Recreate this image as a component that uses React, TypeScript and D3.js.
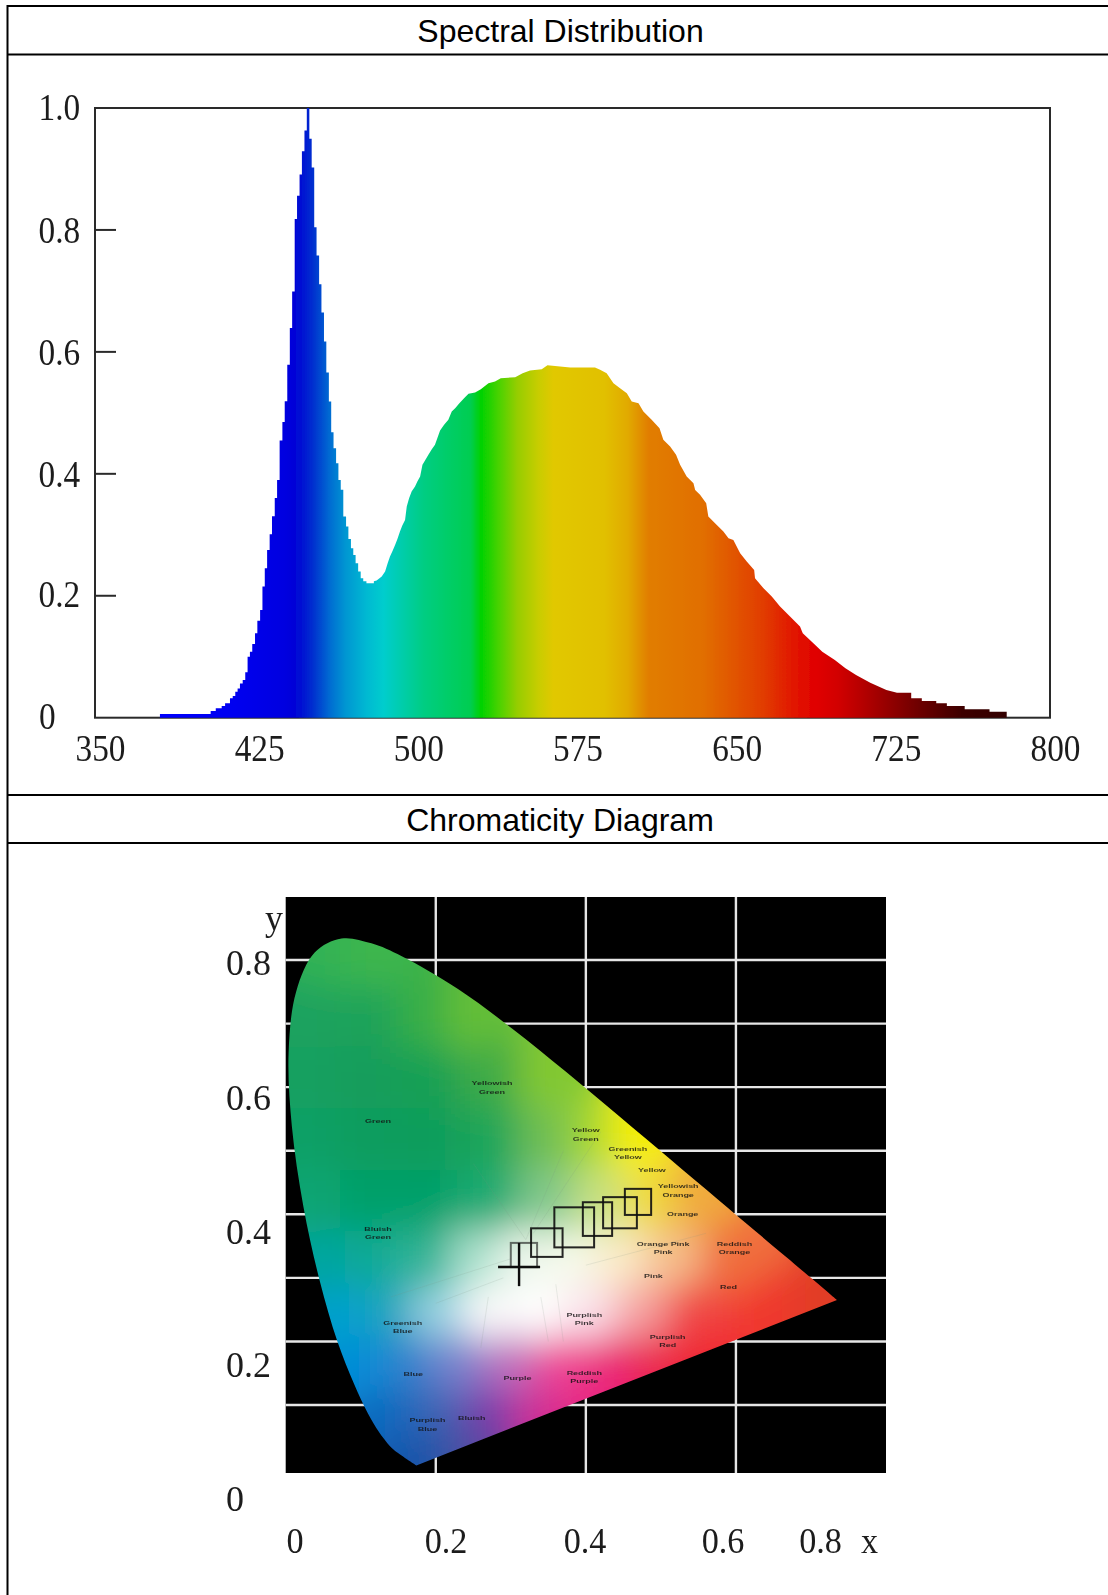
import React, { useMemo } from "react";
import * as d3 from "d3";

// ---------- Spectral distribution data ----------
const wavelengths = [
  380.6, 404.5, 406.9, 409.7, 411.3, 413.6, 414.9, 416.1, 417.2, 418.3, 419.6, 420.8, 421.9, 423, 424.1, 425.4, 426.5, 427.8, 428.9, 430,
  431.1, 432.3, 433.4, 434.7, 435.8, 437, 438.3, 439.4, 440.6, 441.8, 442.9, 444.1, 445.2, 446.4, 447.5, 448.7, 449.8, 451, 452.1, 453.3,
  454.4, 455.6, 456.7, 457.9, 459, 460.2, 461.3, 462.4, 463.6, 464.7, 465.8, 467, 468.3, 469.4, 470.6, 471.7, 472.8, 474, 475.2, 476.4,
  477.9, 481.4, 482.7, 485.1, 486.7, 487.9, 489, 490.3, 491.4, 492.5, 493.7, 494.8, 496.1, 496.9, 498, 499.2, 500.8, 501.9, 503.2, 504.3,
  505.5, 507.1, 508.7, 510.2, 511.3, 512.6, 514.5, 516.5, 518.1, 519.7, 521.7, 523.9, 526, 529.1, 531.8, 535.4, 538.5, 541.2, 548, 551.5,
  555, 560.5, 563.2, 573.9, 585.6, 588, 591.1, 594.3, 597.4, 600.6, 602.9, 606.1, 608.4, 612.3, 616, 617.8, 621, 623.8, 625.7, 628.8,
  632, 632.8, 635.1, 638, 639, 643, 646.1, 648.5, 650.8, 654, 657.1, 660.6, 661, 665, 668.9, 672.8, 677.5, 682.2, 683.5, 688.5,
  692.7, 698.6, 703.6, 708.6, 715.3, 722.9, 727.9, 734.6, 739.6, 746.4, 751.4, 759.8, 771.5, 779.6,
];
const intensities = [
  0.006, 0.011, 0.0154, 0.019, 0.0236, 0.032, 0.0356, 0.0427, 0.048, 0.056, 0.062, 0.0745, 0.1, 0.108, 0.121, 0.1385, 0.159, 0.1767, 0.215, 0.245,
  0.275, 0.301, 0.3305, 0.3605, 0.39, 0.4545, 0.485, 0.519, 0.579, 0.639, 0.699, 0.818, 0.856, 0.891, 0.929, 0.963, 1.0, 0.9497, 0.9026, 0.8046,
  0.7581, 0.7111, 0.6646, 0.617, 0.5661, 0.5185, 0.468, 0.442, 0.4175, 0.39, 0.3737, 0.33, 0.3135, 0.293, 0.278, 0.267, 0.2534, 0.2397, 0.2287, 0.224,
  0.2205, 0.224, 0.2249, 0.2314, 0.2396, 0.2533, 0.2643, 0.2741, 0.2834, 0.2933, 0.3053, 0.3151, 0.3244, 0.3463, 0.36, 0.3709, 0.3791, 0.3873, 0.3955, 0.4147,
  0.4218, 0.4311, 0.4404, 0.4475, 0.4584, 0.471, 0.4803, 0.4885, 0.5022, 0.5077, 0.5159, 0.5241, 0.5312, 0.5334, 0.5388, 0.5487, 0.5514, 0.5569, 0.5585, 0.5651,
  0.5695, 0.5717, 0.5782, 0.5744, 0.5744, 0.5706, 0.5651, 0.5487, 0.5405, 0.5323, 0.5186, 0.5159, 0.5022, 0.4885, 0.4748, 0.4557, 0.4448, 0.4311, 0.4147, 0.3955,
  0.3846, 0.3736, 0.3655, 0.3518, 0.3299, 0.3162, 0.3053, 0.2943, 0.2916, 0.2697, 0.2561, 0.2424, 0.2287, 0.2123, 0.1986, 0.1822, 0.1658, 0.1494, 0.1384, 0.122,
  0.1083, 0.0946, 0.081, 0.07, 0.0574, 0.0454, 0.041, 0.0317, 0.0274, 0.0235, 0.0192, 0.0137, 0.0099, 0.0099,
];
const colorWavelengths = [380, 415, 439, 446, 453, 461, 468, 478, 486, 505, 527, 532, 541, 549, 559, 566, 590, 601, 611, 637, 665, 680, 690, 700, 712, 738, 759, 781];
const spectrumColors = [
  "#0000ff", "#0000f0", "#0000e0", "#0008d4", "#0032cf", "#006ed2", "#0096d2", "#00b9d2", "#00cdcd", "#00cd82", "#00cd50", "#00d200", "#50d200", "#96cd00",
  "#c8cd00", "#e1c800", "#e1c000", "#e1aa00", "#e17d00", "#e16e00", "#e13c00", "#e11400", "#e00000", "#d20000", "#b40000", "#6e0000", "#3c0000", "#320000",
];
const spectrumXTicks = [350, 425, 500, 575, 650, 725, 800];
const spectrumYTicks = [0, 0.2, 0.4, 0.6, 0.8, 1.0];

// ---------- Chromaticity data ----------
const locusX = [0.1741, 0.144, 0.1355, 0.1241, 0.1096, 0.0913, 0.0687, 0.0454, 0.0235, 0.0082, 0.0039, 0.0139, 0.0389, 0.0743, 0.1142, 0.1547, 0.2296, 0.3016, 0.3731, 0.4441, 0.5125, 0.5752, 0.627, 0.6658, 0.6915, 0.726, 0.7347];
const locusY = [0.005, 0.0297, 0.0399, 0.0578, 0.0868, 0.1327, 0.2007, 0.295, 0.4127, 0.5384, 0.6548, 0.7502, 0.812, 0.8338, 0.8262, 0.8059, 0.7543, 0.6923, 0.6245, 0.5547, 0.4866, 0.4242, 0.3725, 0.334, 0.3083, 0.274, 0.2653];
const fieldX = [
  0.053, 0.107,
  0.026, 0.107, 0.189, 0.243,
  0.026, 0.107, 0.189, 0.270, 0.351,
  0.026, 0.107, 0.189, 0.270, 0.351, 0.406, 0.460,
  0.040, 0.107, 0.189, 0.270, 0.351, 0.419, 0.487, 0.541,
  0.053, 0.107, 0.189, 0.256, 0.311, 0.379, 0.446, 0.514, 0.595,
  0.080, 0.134, 0.202, 0.270, 0.338, 0.406, 0.473, 0.541, 0.636, 0.717,
  0.107, 0.162, 0.229, 0.297, 0.365, 0.433, 0.487, 0.555,
  0.141, 0.202, 0.270, 0.338, 0.392,
  0.175, 0.216, 0.256,
];
const fieldY = [
  0.805, 0.805,
  0.709, 0.709, 0.709, 0.709,
  0.614, 0.614, 0.614, 0.614, 0.614,
  0.518, 0.518, 0.518, 0.518, 0.518, 0.518, 0.518,
  0.421, 0.421, 0.421, 0.421, 0.421, 0.421, 0.421, 0.421,
  0.326, 0.326, 0.326, 0.326, 0.326, 0.326, 0.326, 0.326, 0.326,
  0.246, 0.246, 0.246, 0.246, 0.246, 0.246, 0.246, 0.246, 0.246, 0.246,
  0.166, 0.166, 0.166, 0.166, 0.166, 0.166, 0.166, 0.166,
  0.086, 0.086, 0.086, 0.086, 0.086,
  0.022, 0.022, 0.022,
];
const fieldColors = [
  "rgb(50,178,85)", "rgb(60,182,78)",
  "rgb(30,162,95)", "rgb(28,163,90)", "rgb(55,175,70)", "rgb(100,190,55)",
  "rgb(22,160,97)", "rgb(18,157,92)", "rgb(25,160,85)", "rgb(60,170,70)", "rgb(130,200,50)",
  "rgb(16,160,102)", "rgb(12,157,94)", "rgb(12,157,92)", "rgb(30,165,90)", "rgb(110,190,85)", "rgb(165,215,50)", "rgb(245,238,0)",
  "rgb(10,165,115)", "rgb(6,160,106)", "rgb(6,160,106)", "rgb(30,170,115)", "rgb(130,200,140)", "rgb(200,225,130)", "rgb(240,220,60)", "rgb(240,170,60)",
  "rgb(0,165,160)", "rgb(10,170,150)", "rgb(50,180,150)", "rgb(170,225,205)", "rgb(235,245,235)", "rgb(245,250,235)", "rgb(250,235,200)", "rgb(245,190,140)", "rgb(240,110,60)",
  "rgb(0,160,205)", "rgb(30,165,190)", "rgb(150,210,225)", "rgb(250,250,250)", "rgb(255,255,255)", "rgb(250,225,235)", "rgb(245,160,160)", "rgb(240,70,70)", "rgb(240,55,45)", "rgb(225,60,40)",
  "rgb(0,140,215)", "rgb(50,130,205)", "rgb(120,130,205)", "rgb(190,110,190)", "rgb(240,70,150)", "rgb(235,40,120)", "rgb(235,40,80)", "rgb(240,40,50)",
  "rgb(15,105,190)", "rgb(60,100,180)", "rgb(120,60,170)", "rgb(205,45,150)", "rgb(230,40,130)",
  "rgb(25,85,170)", "rgb(50,85,165)", "rgb(90,70,160)",
];
const fanFromX = [0.32, 0.32, 0.33, 0.30, 0.29, 0.36, 0.40, 0.34, 0.27];
const fanFromY = [0.36, 0.36, 0.37, 0.33, 0.30, 0.29, 0.32, 0.27, 0.27];
const fanToX = [0.25, 0.37, 0.42, 0.14, 0.20, 0.37, 0.56, 0.35, 0.26];
const fanToY = [0.48, 0.50, 0.53, 0.27, 0.26, 0.20, 0.37, 0.20, 0.19];
const gridX = [0.2, 0.4, 0.6];
const gridY = [0.1, 0.2, 0.3, 0.4, 0.5, 0.6, 0.7, 0.8];
const boxX0 = [0.452, 0.423, 0.396, 0.358, 0.327, 0.3];
const boxX1 = [0.487, 0.468, 0.435, 0.411, 0.369, 0.335];
const boxY0 = [0.399, 0.378, 0.366, 0.348, 0.333, 0.317];
const boxY1 = [0.44, 0.427, 0.419, 0.411, 0.378, 0.355];
const crossX = 0.311;
const crossY = 0.317;
const regionNames = [
  ["Green"], ["Yellowish", "Green"], ["Bluish", "Green"], ["Yellow", "Green"], ["Greenish", "Yellow"], ["Yellow"], ["Yellowish", "Orange"], ["Orange"], ["Orange Pink", "Pink"], ["Reddish", "Orange"],
  ["Pink"], ["Red"], ["Purplish", "Pink"], ["Purplish", "Red"], ["Greenish", "Blue"], ["Blue"], ["Purple"], ["Reddish", "Purple"], ["Purplish", "Blue"], ["Bluish"],
];
const regionX = [0.123, 0.275, 0.123, 0.40, 0.456, 0.488, 0.523, 0.529, 0.503, 0.598, 0.49, 0.59, 0.398, 0.509, 0.156, 0.17, 0.309, 0.398, 0.189, 0.248];
const regionY = [0.543, 0.603, 0.374, 0.529, 0.50, 0.467, 0.441, 0.397, 0.35, 0.35, 0.30, 0.283, 0.239, 0.204, 0.226, 0.145, 0.139, 0.148, 0.073, 0.076];
const cieYLabels = ["0.8", "0.6", "0.4", "0.2", "0"];
const cieXLabels = ["0", "0.2", "0.4", "0.6", "0.8", "x"];

// ---------- Layout ----------
const W = 1108;
const H = 1595;
const serif = "'Liberation Serif', serif";
const sans = "'Liberation Sans', sans-serif";
const cieYLabelBase = [975, 1110, 1244, 1377, 1511];
const cieXLabelMid = [295, 446, 585, 723, 820.5, 869.6];

function Squeezed({ x, y, children, size = 37, sx = 0.9, anchor = "start", blur = "soft" }: any) {
  return (
    <text transform={`translate(${x},${y}) scale(${sx},1)`} fontFamily={serif} fontSize={size} fill="#1c1c1c" textAnchor={anchor} filter={`url(#${blur})`}>
      {children}
    </text>
  );
}

export default function App() {
  const sx = d3.scaleLinear().domain([350, 800]).range([95, 1050]);
  const sy = d3.scaleLinear().domain([0, 1]).range([717.7, 108]);
  const cx = d3.scaleLinear().domain([0, 0.8]).range([285.7, 886]);
  const cy = d3.scaleLinear().domain([0, 0.8]).range([1468.6, 960]);

  const spectrumPath = useMemo(() => {
    // The source is stepped where the steps are visible: the peak and the long tail.
    const pts: [number, number][] = [];
    wavelengths.forEach((w, i) => {
      pts.push([w, intensities[i]]);
      const stepped = w < 480 || w > 725;
      if (stepped && i + 1 < wavelengths.length) pts.push([wavelengths[i + 1], intensities[i]]);
    });
    return d3
      .area<[number, number]>()
      .x((d) => sx(d[0]))
      .y0(sy(0))
      .y1((d) => sy(d[1]))(pts) as string;
  }, []);

  const locusPath = useMemo(() => {
    const pts = locusX.map((x, i) => [cx(x), cy(locusY[i])] as [number, number]);
    return (d3.line().curve(d3.curveCatmullRom.alpha(0.5))(pts) as string) + "Z";
  }, []);

  const cells = useMemo(() => {
    const pts = fieldX.map((x, i) => [cx(x), cy(fieldY[i])] as [number, number]);
    const vor = d3.Delaunay.from(pts).voronoi([200, 850, 950, 1520]);
    return pts.map((_, i) => ({ d: vor.renderCell(i), fill: fieldColors[i] }));
  }, []);

  const x0 = sx(380);
  const x1 = sx(781);

  return (
    <svg width={W} height={H} viewBox={`0 0 ${W} ${H}`} style={{ position: "absolute", left: 0, top: 0, background: "#fff", display: "block" }}>
      <defs>
        <linearGradient id="spec" gradientUnits="userSpaceOnUse" x1={x0} x2={x1} y1={0} y2={0}>
          {colorWavelengths.map((w, i) => (
            <stop key={w} offset={(w - 380) / 401} stopColor={spectrumColors[i]} />
          ))}
        </linearGradient>
        <filter id="soft" x="-20%" y="-20%" width="140%" height="140%">
          <feGaussianBlur stdDeviation="0.4" />
        </filter>
        <filter id="softer" x="-20%" y="-20%" width="140%" height="140%">
          <feGaussianBlur stdDeviation="0.65" />
        </filter>
        <filter id="field" filterUnits="userSpaceOnUse" x="150" y="800" width="850" height="760">
          <feGaussianBlur stdDeviation="18" />
        </filter>
        <clipPath id="locus">
          <path d={locusPath} />
        </clipPath>
      </defs>

      {/* table rules */}
      <g stroke="#000" strokeWidth={2}>
        <line x1={7.5} x2={W} y1={6} y2={6} />
        <line x1={7.5} x2={7.5} y1={5} y2={H} />
        <line x1={7.5} x2={W} y1={54.5} y2={54.5} />
        <line x1={7.5} x2={W} y1={795} y2={795} />
        <line x1={7.5} x2={W} y1={843} y2={843} />
      </g>
      <text x={560.5} y={41.5} textAnchor="middle" fontFamily={sans} fontSize={32}>Spectral Distribution</text>
      <text x={560} y={831} textAnchor="middle" fontFamily={sans} fontSize={32}>Chromaticity Diagram</text>

      {/* spectrum */}
      <rect x={95} y={108} width={955} height={609.7} fill="none" stroke="#2a2a2a" strokeWidth={2} />
      {spectrumYTicks.filter((t) => t > 0 && t < 1).map((t) => (
        <line key={t} x1={95} x2={116} y1={sy(t)} y2={sy(t)} stroke="#2a2a2a" strokeWidth={2} />
      ))}
      <path d={spectrumPath} fill="url(#spec)" filter="url(#soft)" />
      {spectrumYTicks.map((t) => (
        <Squeezed key={t} x={t === 0 ? 39 : 38.5} y={sy(t) + (t > 0.3 && t < 1 ? 13 : 11.5)}>{t === 0 ? "0" : t.toFixed(1)}</Squeezed>
      ))}
      {spectrumXTicks.map((t) => (
        <Squeezed key={t} x={sx(t) + 5.5} y={761} anchor="middle">{t}</Squeezed>
      ))}

      {/* chromaticity */}
      <rect x={285.7} y={897} width={600.3} height={576} fill="#000" />
      <g stroke="#e6e6e6" strokeWidth={2.4} filter="url(#soft)">
        {gridX.map((t) => (
          <line key={t} x1={cx(t)} x2={cx(t)} y1={897} y2={1473} />
        ))}
        {gridY.map((t) => (
          <line key={t} x1={285.7} x2={886} y1={cy(t)} y2={cy(t)} />
        ))}
      </g>
      <g clipPath="url(#locus)">
        <g filter="url(#field)">
          {cells.map((c, i) => (
            <path key={i} d={c.d} fill={c.fill} stroke={c.fill} strokeWidth={1} />
          ))}
        </g>
        <g stroke="#7a8a80" strokeOpacity={0.15} strokeWidth={1} filter="url(#soft)">
          {fanFromX.map((_, i) => (
            <line key={i} x1={cx(fanFromX[i])} y1={cy(fanFromY[i])} x2={cx(fanToX[i])} y2={cy(fanToY[i])} />
          ))}
        </g>
        <g filter="url(#softer)" fontFamily={sans} fontWeight="bold" fill="#111" fillOpacity={0.8} textAnchor="middle">
          {regionNames.map((lines, i) => (
            <g key={i} transform={`translate(${cx(regionX[i])},${cy(regionY[i])}) scale(1,0.6)`}>
              <text fontSize={9}>
                {lines.map((l, j) => (
                  <tspan key={j} x={0} dy={j === 0 ? 0 : 14}>{l}</tspan>
                ))}
              </text>
            </g>
          ))}
        </g>
      </g>
      <g fill="none" stroke="#111" strokeWidth={2} filter="url(#soft)">
        {boxX0.map((_, i) => (
          <rect key={i} x={cx(boxX0[i])} y={cy(boxY1[i])} width={cx(boxX1[i]) - cx(boxX0[i])} height={cy(boxY0[i]) - cy(boxY1[i])} strokeOpacity={i === 5 ? 0.6 : 0.9} />
        ))}
        <line x1={cx(crossX - 0.028)} x2={cx(crossX + 0.028)} y1={cy(crossY)} y2={cy(crossY)} strokeWidth={2.4} />
        <line x1={cx(crossX)} x2={cx(crossX)} y1={cy(crossY + 0.038)} y2={cy(crossY - 0.03)} strokeWidth={2.4} />
      </g>
      {cieYLabels.map((l, i) => (
        <Squeezed key={l} x={226} y={cieYLabelBase[i]} size={36} sx={1} blur="softer">{l}</Squeezed>
      ))}
      <Squeezed x={265} y={930} size={36} sx={1} blur="softer">y</Squeezed>
      {cieXLabels.map((l, i) => (
        <Squeezed key={l} x={cieXLabelMid[i]} y={1552.7} size={36} sx={0.95} anchor="middle" blur="softer">{l}</Squeezed>
      ))}
    </svg>
  );
}
